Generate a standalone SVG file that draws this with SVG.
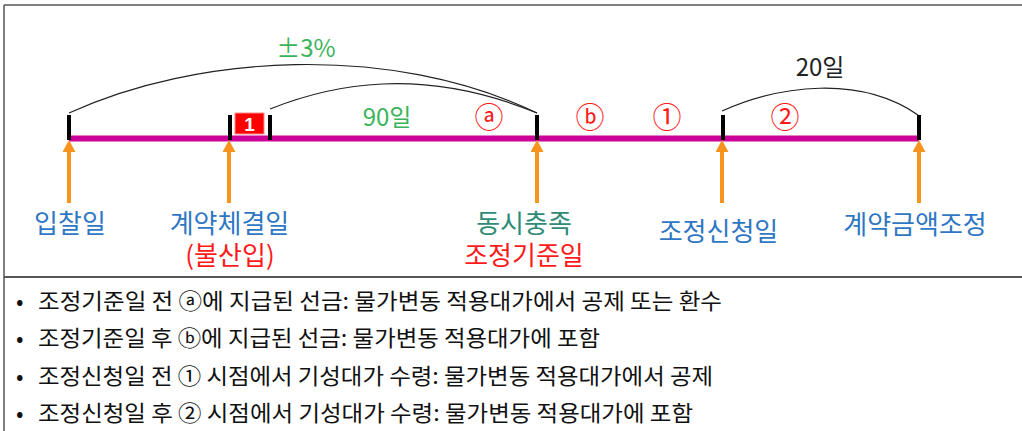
<svg xmlns="http://www.w3.org/2000/svg" width="1022" height="431" viewBox="0 0 1022 431">
<style>
  text{font-family:"Noto Sans CJK KR","Noto Sans",sans-serif}
  .lbl{font-size:26px;text-anchor:middle}
  .mid{text-anchor:middle}
  .blue{fill:#2f77c4}
  .red{fill:#ff1a1a}
  .teal{fill:#2e8b76}
  .green{fill:#3bb35a}
  .circ{font-size:29px;text-anchor:middle;fill:#ff1a1a}
  .dim{font-size:24px;text-anchor:middle}
  .tick{stroke:#000;stroke-width:4}
  .arc{fill:none;stroke:#222;stroke-width:1.2}
  .arrow{stroke:#f7941d;stroke-width:4;marker-end:url(#ah)}
  .note{font-size:22px;fill:#111}
  .frame{stroke:#555;fill:none}
</style>
<defs>
  <marker id="ah" markerUnits="userSpaceOnUse" markerWidth="13" markerHeight="13" refX="0" refY="6.5" orient="auto">
    <path d="M0,0 L12,6.5 L0,13 z" fill="#f7941d"/>
  </marker>
</defs>
<rect width="1022" height="431" fill="#fff"/>
<g id="frame">
  <line class="frame" x1="4" y1="5" x2="1022" y2="5" stroke-width="1.5"/>
  <line class="frame" x1="4" y1="5" x2="4" y2="431" stroke-width="1.5"/>
  <line class="frame" x1="4" y1="277" x2="1022" y2="277" stroke-width="2"/>
</g>
<g id="timeline">
  <line x1="69" y1="138.5" x2="919" y2="138.5" stroke="#cc0099" stroke-width="6"/>
  <line class="tick" x1="69" y1="115" x2="69" y2="140"/>
  <line class="tick" x1="230" y1="115" x2="230" y2="140"/>
  <line class="tick" x1="270" y1="115" x2="270" y2="140"/>
  <line class="tick" x1="537" y1="115" x2="537" y2="140"/>
  <line class="tick" x1="723" y1="115" x2="723" y2="140"/>
  <line class="tick" x1="919" y1="115" x2="919" y2="140"/>
</g>
<g id="connectors">
  <path class="arc" d="M69,113 C195,55 390,42 537,113"/>
  <path class="arc" d="M270,109 C330,85 420,65 537,113"/>
  <path class="arc" d="M722,111 C780,85 860,75 918,115"/>
  <line class="arrow" x1="69" y1="203" x2="69" y2="152"/>
  <line class="arrow" x1="229" y1="203" x2="229" y2="152"/>
  <line class="arrow" x1="537" y1="203" x2="537" y2="152"/>
  <line class="arrow" x1="722" y1="203" x2="722" y2="152"/>
  <line class="arrow" x1="919" y1="203" x2="919" y2="152"/>
</g>
<g id="box1">
  <rect x="235" y="113" width="29" height="21" fill="#ff0000" stroke="#ff8a8a" stroke-width="1"/>
  <text x="249.5" y="131" class="mid" font-weight="bold" font-size="19" fill="#fff" style="font-family:'Liberation Sans',sans-serif">1</text>
</g>
<g id="dims">
  <text x="306" y="57" class="dim green">±3%</text>
  <text x="387" y="126" class="dim green">90일</text>
  <text x="820" y="76" class="dim" fill="#222">20일</text>
  <text x="489" y="128" class="circ">ⓐ</text>
  <text x="590" y="128" class="circ">ⓑ</text>
  <text x="667" y="128" class="circ">①</text>
  <text x="785" y="128" class="circ">②</text>
</g>
<g id="n-bid"><text x="70" y="233" class="lbl blue">입찰일</text></g>
<g id="n-contract">
  <text x="229.5" y="233" class="lbl blue">계약체결일</text>
  <text x="230" y="265" class="lbl red">(불산입)</text>
</g>
<g id="n-base">
  <text x="524" y="233" class="lbl teal">동시충족</text>
  <text x="524" y="265" class="lbl red">조정기준일</text>
</g>
<g id="n-apply"><text x="718.5" y="241" class="lbl blue">조정신청일</text></g>
<g id="n-adjust"><text x="915" y="234" class="lbl blue">계약금액조정</text></g>
<g id="notes">
  <text x="16" y="309" class="note">•</text>
  <text x="38" y="309" class="note" textLength="684" lengthAdjust="spacingAndGlyphs">조정기준일 전 ⓐ에 지급된 선금: 물가변동 적용대가에서 공제 또는 환수</text>
  <text x="16" y="346" class="note">•</text>
  <text x="38" y="346" class="note" textLength="562" lengthAdjust="spacingAndGlyphs">조정기준일 후 ⓑ에 지급된 선금: 물가변동 적용대가에 포함</text>
  <text x="16" y="384" class="note">•</text>
  <text x="38" y="384" class="note" textLength="675" lengthAdjust="spacingAndGlyphs">조정신청일 전 ① 시점에서 기성대가 수령: 물가변동 적용대가에서 공제</text>
  <text x="16" y="421" class="note">•</text>
  <text x="38" y="421" class="note" textLength="655" lengthAdjust="spacingAndGlyphs">조정신청일 후 ② 시점에서 기성대가 수령: 물가변동 적용대가에 포함</text>
</g>
</svg>
